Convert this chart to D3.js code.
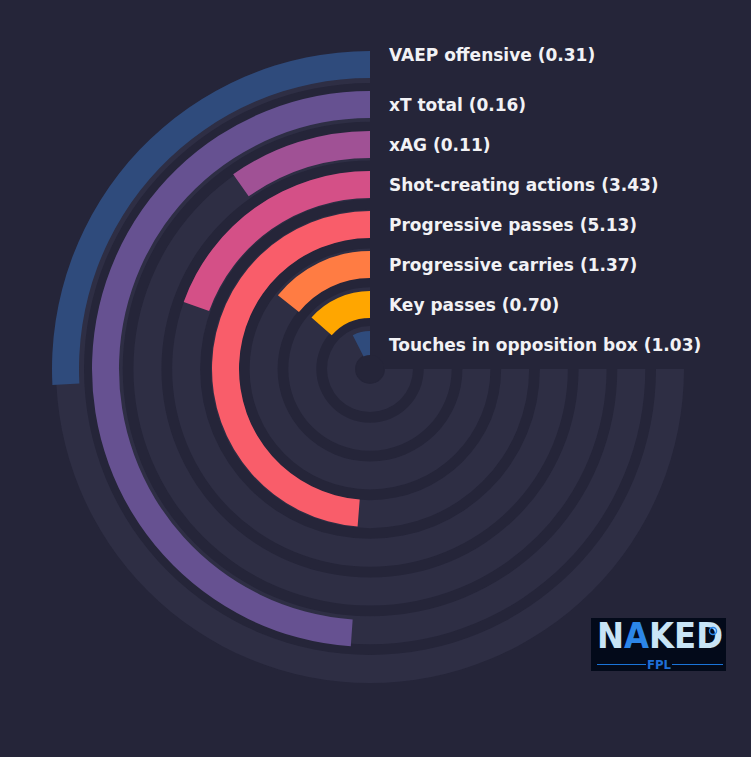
<!DOCTYPE html>
<html>
<head>
<meta charset="utf-8">
<script src="https://cdn.jsdelivr.net/npm/d3@7"></script>
<style>
  html,body{margin:0;padding:0;background:#252539;}
  svg{display:block;}
</style>
</head>
<body>
<div id="chart"></div>
<script>
// outer ring first, inner ring last
var metrics=["VAEP offensive","xT total","xAG","Shot-creating actions","Progressive passes","Progressive carries","Key passes","Touches in opposition box"];
var values=[0.31,0.16,0.11,3.43,5.13,1.37,0.70,1.03];
var percentiles=[34.4,65.2,13,26,65,19,18,10];
var colors=["#2f4b7c","#665191","#a05195","#d45087","#f95d6a","#ff7c43","#ffa600","#2f4b7c"];

var width=751,height=757;
var cx=370,cy=369;
var bg="#252539",track="#2e2e44";

var svg=d3.select('#chart').append('svg').attr('width',width).attr('height',height);
svg.append('rect').attr('width',width).attr('height',height).attr('fill',bg);

var g=svg.append('g').attr('transform','translate('+cx+','+cy+')');

var n=metrics.length;
// ring index: 0 = innermost
var trackR=d3.scaleLinear().domain([0,n-1]).range([15,286]);
var barR=d3.scaleLinear().domain([0,n-1]).range([11,291]);
var angle=d3.scaleLinear().domain([0,100]).range([0,-1.5*Math.PI]);

var data=metrics.map(function(m,i){
	return {name:m,value:values[i],pct:percentiles[i],color:colors[i],ring:n-1-i};
});

var arc=d3.arc();

g.selectAll('path.track').data(data).enter().append('path')
	.attr('class','track')
	.attr('fill',track)
	.attr('d',function(d){
		return arc({innerRadius:trackR(d.ring),outerRadius:trackR(d.ring)+28,startAngle:0,endAngle:angle(100)});
	});

g.selectAll('path.bar').data(data).enter().append('path')
	.attr('class','bar')
	.attr('fill',function(d){return d.color;})
	.attr('d',function(d){
		return arc({innerRadius:barR(d.ring),outerRadius:barR(d.ring)+27,startAngle:0,endAngle:angle(d.pct)});
	});

g.append('circle').attr('r',14).attr('fill',bg);

var fmt=d3.format('.2f');
g.selectAll('text.lbl').data(data).enter().append('text')
	.attr('class','lbl')
	.attr('x',19)
	.attr('y',function(d){
		var y=-(barR(d.ring)+13);
		if(d.ring==n-1) y+=-9.5;
		return y;
	})
	.attr('dy','0.35em')
	.attr('fill','#f2f2f5')
	.style('font-family','DejaVu Sans')
	.style('font-weight','bold')
	.style('font-size','17px')
	.text(function(d){return d.name+' ('+fmt(d.value)+')';});

// logo
var logo=svg.append('g').attr('transform','translate(591,618)');
logo.append('rect').attr('width',135).attr('height',53).attr('fill','#030a1a');
var t=logo.append('text').attr('x',6).attr('y',30)
	.style('font-family','DejaVu Sans Condensed, DejaVu Sans')
	.style('font-weight','bold')
	.style('font-size','36px')
	.attr('textLength',126).attr('lengthAdjust','spacingAndGlyphs');
t.append('tspan').attr('fill','#c8e4f6').text('N');
t.append('tspan').attr('fill','#2c86e8').text('A');
t.append('tspan').attr('fill','#c8e4f6').text('KED');
logo.append('circle').attr('cx',122).attr('cy',13).attr('r',3.5).attr('fill','none').attr('stroke','#2c86e8').attr('stroke-width',1.5);
logo.append('text').attr('x',68).attr('y',51)
	.attr('text-anchor','middle')
	.attr('fill','#1f6fd6')
	.style('font-family','DejaVu Sans Condensed, DejaVu Sans')
	.style('font-weight','bold')
	.style('font-size','13px')
	.text('FPL');
logo.append('line').attr('x1',6).attr('x2',55).attr('y1',46.5).attr('y2',46.5).attr('stroke','#1a74d8').attr('stroke-width',1);
logo.append('line').attr('x1',81).attr('x2',132).attr('y1',46.5).attr('y2',46.5).attr('stroke','#1a74d8').attr('stroke-width',1);
</script>
</body>
</html>
